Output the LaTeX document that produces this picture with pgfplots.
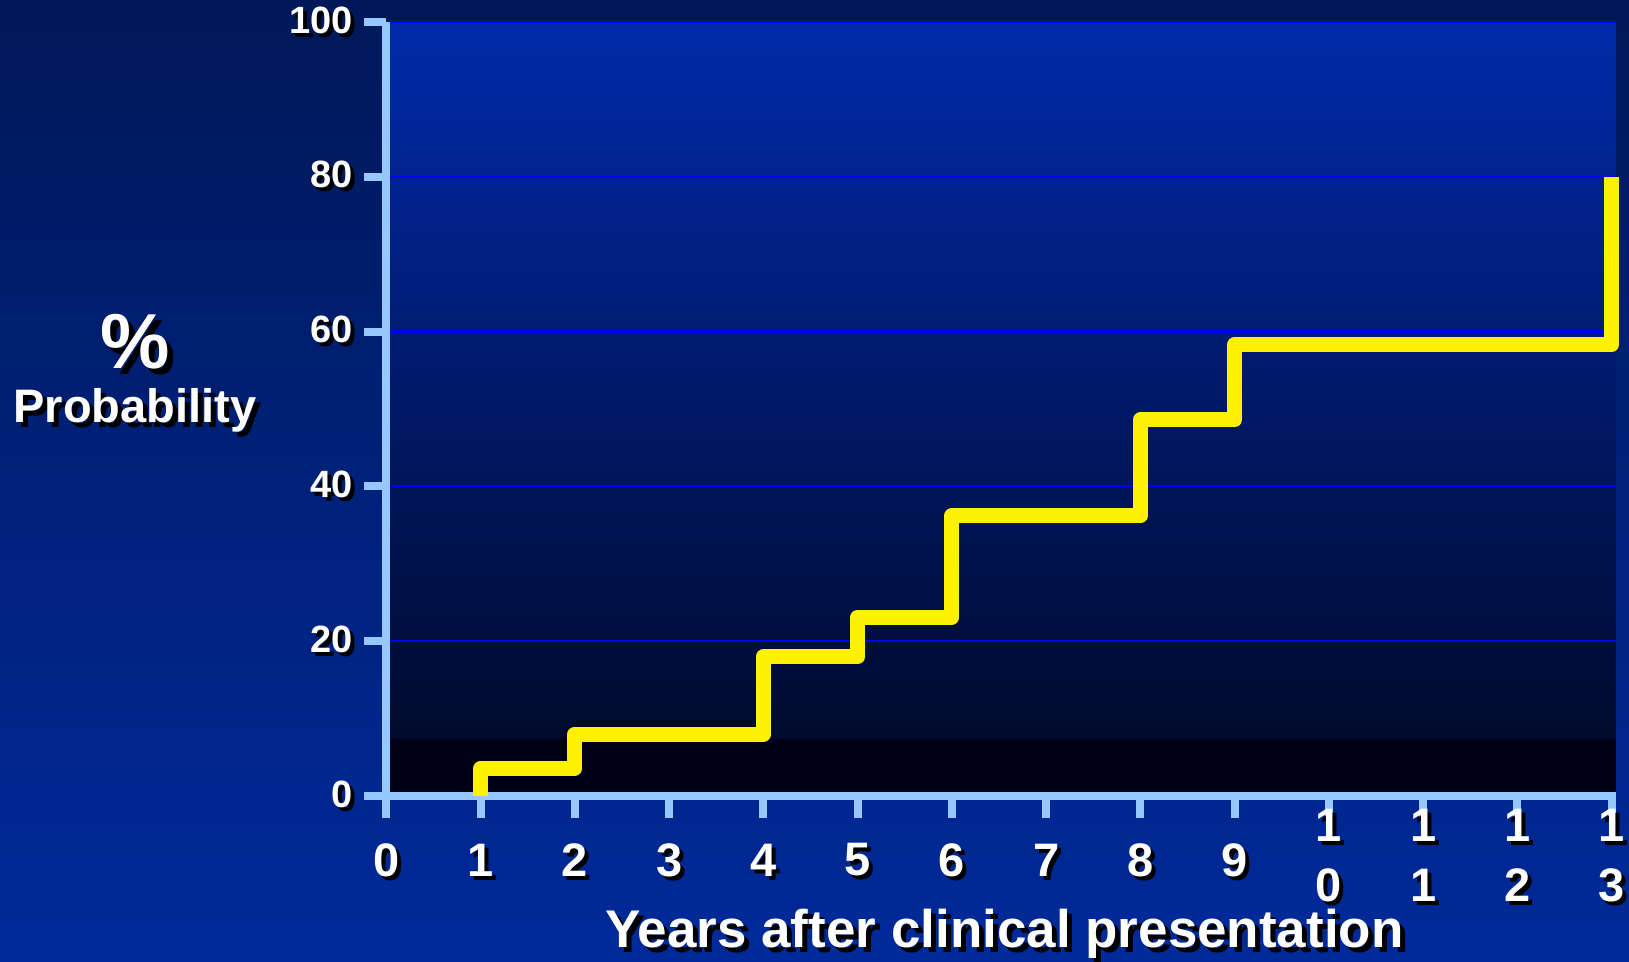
\documentclass[border=0pt]{standalone}
\usepackage{pgfplots}
\usepackage{pgfplotstable}
\pgfplotsset{compat=1.18}
\usepackage{fontspec}
\setmainfont{Liberation Sans}

\definecolor{axisblue}{RGB}{150,200,255}
\definecolor{gridblue}{RGB}{0,0,255}
\definecolor{bgtop}{RGB}{0,24,88}
\definecolor{bgbot}{RGB}{0,42,155}
\definecolor{ptop}{RGB}{0,42,170}
\definecolor{plow}{RGB}{0,10,45}
\definecolor{pbot}{RGB}{0,0,22}

% plot area: blue fading to black, with a dark band near the baseline
\pgfdeclareverticalshading{plotbg}{100bp}{color(0bp)=(pbot); color(28.6bp)=(pbot); color(28.8bp)=(plow); color(75bp)=(ptop); color(100bp)=(ptop)}

% white text with a black drop shadow
\newcommand\sh[2][2pt]{\leavevmode\rlap{\hspace{#1}\raisebox{-#1}{\color{black}#2}}{\color{white}#2}}
% two-digit tick labels set one digit above the other
\newcommand\two[2]{\begin{tabular}{@{}c@{}}#1\\#2\end{tabular}}

\pgfplotstableread{
year pct
1 0
1 3.6
2 8.0
4 18.0
5 23.1
6 36.2
8 48.6
9 58.3
13 80
}\stepdata

\begin{document}
\begin{tikzpicture}
\shade[top color=bgtop, bottom color=bgbot] (-193.25pt,-83pt) rectangle (621.25pt,398pt);
\begin{axis}[
  at={(0,0)}, anchor=south west,
  scale only axis, width=614.5pt, height=387pt,
  xmin=0, xmax=13.04, ymin=0, ymax=100,
  axis lines=left,
  axis line style={draw=axisblue, line width=4pt, -},
  axis background/.style={shade, shading=plotbg},
  ymajorgrids, grid style={draw=gridblue, line width=1.1pt},
  xtick={0,...,13}, ytick={0,20,...,100},
  tick align=outside, major tick length=11pt,
  tick style={draw=axisblue, line width=4pt},
  xticklabels={\sh{0},\sh{1},\sh{2},\sh{3},\sh{4},\sh{5},\sh{6},\sh{7},\sh{8},\sh{9},\sh{\two10},\sh{\two11},\sh{\two12},\sh{\two13}},
  yticklabels={\sh{0},\sh{20},\sh{40},\sh{60},\sh{80},\sh{100}},
  xticklabel style={font=\fontsize{23.5}{30}\selectfont\bfseries, anchor=center, yshift=-22pt},
  yticklabel style={font=\fontsize{19}{21}\selectfont\bfseries, anchor=east, xshift=-2.5pt},
  clip=false,
]
\addplot[const plot, draw=yellow, line width=7.5pt, line join=round] table[x=year, y=pct] {\stepdata};
\end{axis}
\node[font=\fontsize{39}{40}\selectfont\bfseries] at (-125.75pt,225.5pt) {\sh[3pt]{\%}};
\node[font=\fontsize{23.5}{26}\selectfont\bfseries] at (-125.75pt,191.5pt) {\sh[2.5pt]{Probability}};
\node[font=\fontsize{26.5}{30}\selectfont\bfseries] at (309pt,-70pt) {\sh[2.5pt]{Years after clinical presentation}};
\pgfresetboundingbox
\useasboundingbox (-193.25pt,-83pt) rectangle (621.25pt,398pt);
\end{tikzpicture}
\end{document}
